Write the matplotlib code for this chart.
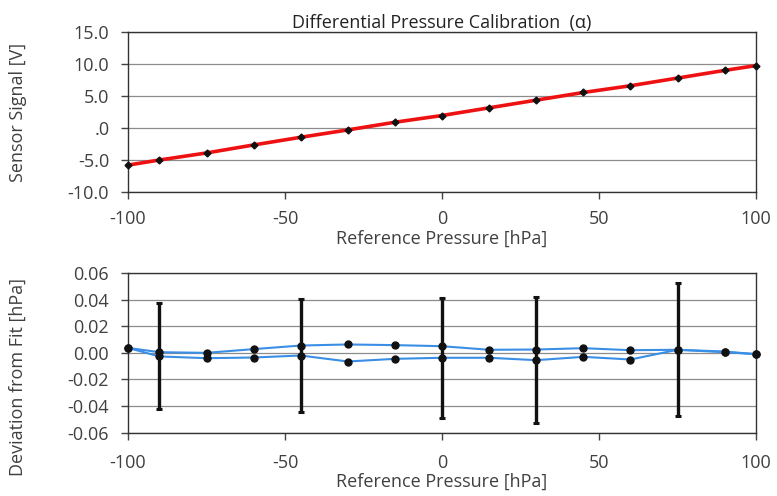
import matplotlib
matplotlib.use("Agg")
import matplotlib.pyplot as plt
import numpy as np

plt.rcParams['font.family'] = ['Open Sans', 'DejaVu Sans']

pressure = [-100, -90, -75, -60, -45, -30, -15, 0, 15, 30, 45, 60, 75, 90, 100]
signal = [-5.8, -5.0, -3.9, -2.65, -1.45, -0.3, 0.9, 1.95, 3.15, 4.35, 5.55, 6.6, 7.8, 9.0, 9.75]

dev_upper = [0.0037, 0.0005, 0.0, 0.0028, 0.0055, 0.0063, 0.0058, 0.005, 0.0023, 0.0025, 0.0035, 0.002, 0.0023, 0.001, -0.001]
dev_lower = [0.0037, -0.0027, -0.004, -0.0035, -0.002, -0.0065, -0.0045, -0.0037, -0.0037, -0.0055, -0.003, -0.005, 0.0023, 0.0005, -0.001]

err_x = [-90, -45, 0, 30, 75]
err_top = [0.0378, 0.0408, 0.0413, 0.0418, 0.0523]
err_bottom = [-0.0422, -0.0443, -0.0488, -0.0525, -0.0477]

top_yticks = [15, 10, 5, 0, -5, -10]
top_ylabels = ["15.0", "10.0", "5.0", ".0", "-5.0", "-10.0"]
bot_yticks = [0.06, 0.04, 0.02, 0.0, -0.02, -0.04, -0.06]
bot_ylabels = ["0.06", "0.04", "0.02", "0.00", "-0.02", "-0.04", "-0.06"]
xticks = [-100, -50, 0, 50, 100]
xlabels = ["-100", "-50", "0", "50", "100"]

W, H = 777, 496
fig = plt.figure(figsize=(W / 100, H / 100), dpi=100)
ax1 = fig.add_axes([128 / W, 1 - 192 / H, (756 - 128) / W, 160 / H])
ax2 = fig.add_axes([128 / W, 1 - 432.7 / H, (756 - 128) / W, 159.7 / H])

tc = '#404040'
fs = 13

def style(ax, xpad):
    for s in ax.spines.values():
        s.set_color('#333333')
        s.set_linewidth(1.0)
    ax.grid(axis='y', color='#8c8c8c', linewidth=0.9)
    ax.set_axisbelow(True)
    ax.tick_params(axis='both', colors='#444444', labelcolor=tc, labelsize=fs,
                   direction='out', length=5, width=1.0)
    ax.tick_params(axis='y', pad=8.5)
    ax.tick_params(axis='x', pad=xpad)
    ax.set_xlim(-100, 100)
    ax.set_xticks(xticks)
    ax.set_xticklabels(xlabels)
    ax.set_xlabel("Reference Pressure [hPa]", fontsize=fs, color=tc, labelpad=1)

# Top plot
ax1.plot(pressure, signal, color='#ee1111', linewidth=2.6, zorder=3, clip_on=False)
ax1.plot(pressure, signal, linestyle='none', marker='D', markersize=3.5,
         color='#111111', zorder=4, clip_on=False)
ax1.set_ylim(-10, 15)
ax1.set_yticks(top_yticks)
ax1.set_yticklabels(top_ylabels)
style(ax1, 8)
ax1.set_ylabel("Sensor Signal [V]", fontsize=fs, color=tc)
ax1.yaxis.set_label_coords((27 - 128) / 628, 0.5)
ax1.set_title("Differential Pressure Calibration  (\u03b1)", fontsize=fs, color='#222222', pad=2)

# Bottom plot
ax2.errorbar(err_x, [(t + b) / 2 for t, b in zip(err_top, err_bottom)],
             yerr=[[(t - b) / 2 for t, b in zip(err_top, err_bottom)],
                   [(t - b) / 2 for t, b in zip(err_top, err_bottom)]],
             fmt='none', ecolor='#111111', elinewidth=2.4, capsize=2.2, capthick=2.2, zorder=2)
ax2.plot(pressure, dev_upper, color='#3a8ee6', linewidth=1.5, marker='o', markersize=5,
         markerfacecolor='#111111', markeredgecolor='#111111', zorder=3, clip_on=False)
ax2.plot(pressure, dev_lower, color='#3a8ee6', linewidth=1.5, marker='o', markersize=5,
         markerfacecolor='#111111', markeredgecolor='#111111', zorder=3, clip_on=False)
ax2.set_ylim(-0.06, 0.06)
ax2.set_yticks(bot_yticks)
ax2.set_yticklabels(bot_ylabels)
style(ax2, 10)
ax2.set_ylabel("Deviation from Fit [hPa]", fontsize=fs, color=tc)
ax2.yaxis.set_label_coords((27 - 128) / 628, 0.35)

fig.savefig("out.png", dpi=100, facecolor='white')
